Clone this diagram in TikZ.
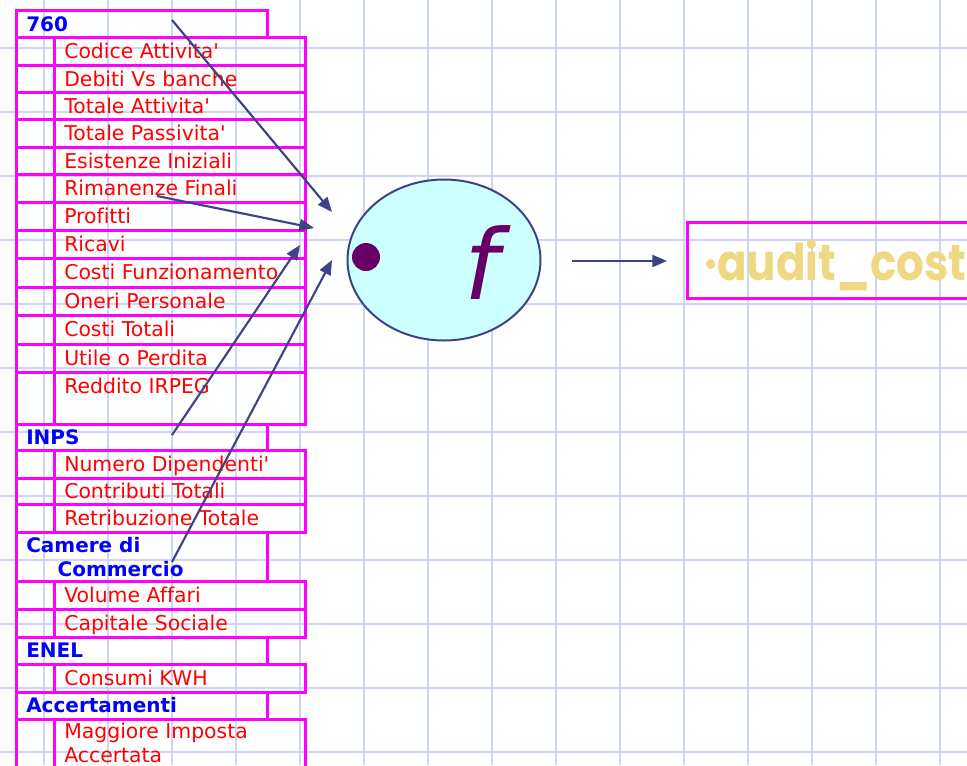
\documentclass[tikz,border=0pt]{standalone}
\usepackage{fontspec}
\setmainfont{DejaVu Sans}[Ligatures={NoCommon}]
\newfontfamily\costfont{Poppins}[FakeStretch=0.86]
\usetikzlibrary{arrows.meta,shapes.geometric}
\definecolor{gridblue}{RGB}{204,214,250}
\definecolor{boxpink}{RGB}{255,0,255}
\definecolor{linkblue}{RGB}{62,66,134}
\definecolor{fpurple}{RGB}{102,0,102}
\definecolor{fcyan}{RGB}{204,255,255}
\definecolor{costgold}{RGB}{238,217,130}

\begin{document}
\begin{tikzpicture}[x=0.75pt,y=-0.75pt,
    gridline/.style={gridblue,line width=1.5pt},
    headbox/.style={draw=boxpink,line width=2.25pt},
    itembox/.style={draw=boxpink,line width=2.25pt},
    headtxt/.style={anchor=base west,inner sep=0pt,text=blue,font=\fontsize{15}{17.6}\selectfont\bfseries,align=left},
    itemtxt/.style={anchor=base west,inner sep=0pt,text=red,font=\fontsize{15.3}{17.6}\selectfont,align=left},
    link/.style={linkblue,line width=1.6pt,-{Triangle[length=11pt,width=9pt]}}]
        \useasboundingbox (0,0) rectangle (967,765);
        \fill[white] (0,0) rectangle (967,765);
        \clip (0,0) rectangle (967,765);
        % squared paper
        \foreach \gx in {0,...,14} \draw[gridline] (44+64*\gx,0) -- (44+64*\gx,765);
        \foreach \gy in {0,...,11} \draw[gridline] (0,47.5+64*\gy) -- (967,47.5+64*\gy);

        % 760
        \draw[headbox] (16,10) rectangle (267,37);
        \draw[itembox] (16,37) rectangle (54,65) (54,37) rectangle (305,65);
        \draw[itembox] (16,65) rectangle (54,92) (54,65) rectangle (305,92);
        \draw[itembox] (16,92) rectangle (54,119) (54,92) rectangle (305,119);
        \draw[itembox] (16,119) rectangle (54,147) (54,119) rectangle (305,147);
        \draw[itembox] (16,147) rectangle (54,174) (54,147) rectangle (305,174);
        \draw[itembox] (16,174) rectangle (54,202) (54,174) rectangle (305,202);
        \draw[itembox] (16,202) rectangle (54,230) (54,202) rectangle (305,230);
        \draw[itembox] (16,230) rectangle (54,258) (54,230) rectangle (305,258);
        \draw[itembox] (16,258) rectangle (54,287) (54,258) rectangle (305,287);
        \draw[itembox] (16,287) rectangle (54,315) (54,287) rectangle (305,315);
        \draw[itembox] (16,315) rectangle (54,344) (54,315) rectangle (305,344);
        \draw[itembox] (16,344) rectangle (54,372) (54,344) rectangle (305,372);
        \draw[itembox] (16,372) rectangle (54,424) (54,372) rectangle (305,424);
        \node[headtxt] (h760) at (26,31) {760};
        \node[itemtxt] (codice) at (64,58) {Codice Attivita\textquotesingle};
        \node[itemtxt] (debiti) at (64,86) {Debiti Vs banche};
        \node[itemtxt] (totatt) at (64,113) {Totale Attivita\textquotesingle};
        \node[itemtxt] (totpass) at (64,140) {Totale Passivita\textquotesingle};
        \node[itemtxt] (esist) at (64,168) {Esistenze Iniziali};
        \node[itemtxt] (riman) at (64,195) {Rimanenze Finali};
        \node[itemtxt] (profitti) at (64,223) {Profitti};
        \node[itemtxt] (ricavi) at (64,251) {Ricavi};
        \node[itemtxt] (costif) at (64,279) {Costi Funzionamento};
        \node[itemtxt] (oneri) at (64,308) {Oneri Personale};
        \node[itemtxt] (costit) at (64,336) {Costi Totali};
        \node[itemtxt] (utile) at (64,365) {Utile o Perdita};
        \node[itemtxt] (reddito) at (64,393) {Reddito IRPEG};

        % INPS
        \draw[headbox] (16,424) rectangle (267,450);
        \draw[itembox] (16,450) rectangle (54,478) (54,450) rectangle (305,478);
        \draw[itembox] (16,478) rectangle (54,504) (54,478) rectangle (305,504);
        \draw[itembox] (16,504) rectangle (54,532) (54,504) rectangle (305,532);
        \node[headtxt] (inps) at (26,444) {INPS};
        \node[itemtxt] (numdip) at (64,471) {Numero Dipendenti\textquotesingle};
        \node[itemtxt] (contrib) at (64,498) {Contributi Totali};
        \node[itemtxt] (retrib) at (64,525) {Retribuzione Totale};

        % Camere di Commercio (base sits on the last line)
        \draw[headbox] (16,532) rectangle (267,581);
        \draw[itembox] (16,581) rectangle (54,609) (54,581) rectangle (305,609);
        \draw[itembox] (16,609) rectangle (54,637) (54,609) rectangle (305,637);
        \node[headtxt] (camere) at (26,576) {Camere di\\\hspace*{23.5pt}Commercio};
        \node[itemtxt] (volume) at (64,602) {Volume Affari};
        \node[itemtxt] (capitale) at (64,630) {Capitale Sociale};

        % ENEL
        \draw[headbox] (16,637) rectangle (267,664);
        \draw[itembox] (16,664) rectangle (54,692) (54,664) rectangle (305,692);
        \node[headtxt] (enel) at (26,657) {ENEL};
        \node[itemtxt] (consumi) at (64,685) {Consumi KWH};

        % Accertamenti
        \draw[headbox] (16,692) rectangle (267,719);
        \draw[itembox] (16,719) rectangle (54,790) (54,719) rectangle (305,790);
        \node[headtxt] (accert) at (26,712) {Accertamenti};
        \node[itemtxt] (maggiore) at (64,762) {Maggiore Imposta\\Accertata};

        % the function
        \node[ellipse,draw=linkblue,fill=fcyan,line width=1.5pt,inner sep=0pt,
              minimum width=144.75pt,minimum height=120.75pt] (func) at (444,260) {};
        \fill[fpurple] (366,257) circle[radius=14];
        \node[anchor=base,inner sep=0pt,text=fpurple,font=\fontsize{73}{80}\selectfont\itshape] (fname) at (482,299) {f};

        % result
        \draw[boxpink,line width=2.25pt] (687,222) rectangle (1100,298);
        \node[anchor=base west,inner sep=0pt,text=costgold,font=\fontsize{38}{40}\costfont\bfseries] (cost) at (704,280) {·audit\_cost};

        % links
        \coordinate (s1) at (172,20);   \coordinate (e1) at (332,212);
        \coordinate (s2) at (157,196);  \coordinate (e2) at (314,228);
        \coordinate (s3) at (172,435);  \coordinate (e3) at (300,245);
        \coordinate (s4) at (172,562);  \coordinate (e4) at (332,260);
        \coordinate (s5) at (572,261);  \coordinate (e5) at (667,261);
        \draw[link] (s1) -- (e1);
        \draw[link] (s2) -- (e2);
        \draw[link] (s3) -- (e3);
        \draw[link] (s4) -- (e4);
        \draw[link] (s5) -- (e5);
\end{tikzpicture}
\end{document}
